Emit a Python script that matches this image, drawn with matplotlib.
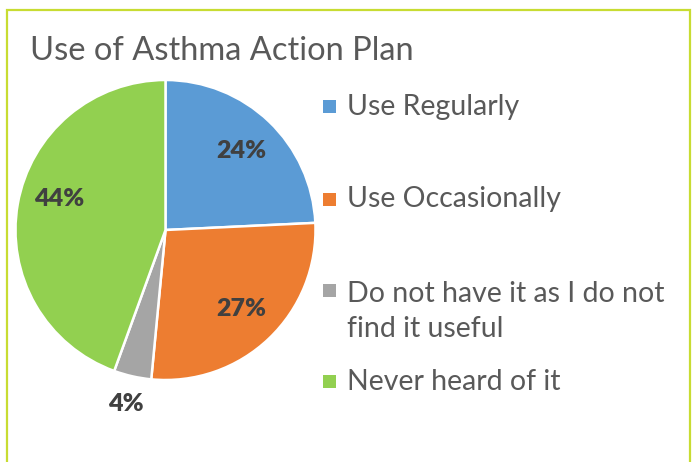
import matplotlib
matplotlib.use("Agg")
import matplotlib.pyplot as plt
from matplotlib.patches import Rectangle
import numpy as np

categories = ["Use Regularly", "Use Occasionally",
              "Do not have it as I do not\nfind it useful", "Never heard of it"]
values = [24, 27, 4, 44]
colors = ["#5B9BD5", "#ED7D31", "#A5A5A5", "#92D050"]
title = "Use of Asthma Action Plan"

W, H = 692, 462
fig = plt.figure(figsize=(W / 100, H / 100), dpi=100)
fig.patch.set_facecolor("white")
plt.rcParams["font.family"] = ["Lato", "DejaVu Sans"]

# border (bottom edge lies outside the image)
fig.patches.append(Rectangle((6.5 / W, -0.05), (689.5 - 6.5) / W, 1.05 - 9.5 / H,
                             transform=fig.transFigure, fill=False,
                             edgecolor="#C8DC32", linewidth=1.6))

fig.text(30 / W, 1 - 60 / H, title, fontsize=23.5, color="#595959",
         va="baseline", ha="left")

cx, cy, R = 165.5, 230, 150
ax = fig.add_axes([(cx - R) / W, 1 - (cy + R) / H, 2 * R / W, 2 * R / H])
wedges, texts, autotexts = ax.pie(
    values, colors=colors, startangle=90, counterclock=False,
    autopct=lambda p: f"{p:.0f}%", pctdistance=0.73,
    wedgeprops=dict(edgecolor="white", linewidth=1.8),
    textprops=dict(fontsize=18, fontweight="heavy", color="#404040"))
for v, t in zip(values, autotexts):
    t.set_text(f"{v}%")
ax.set_xlim(-1, 1)
ax.set_ylim(-1, 1)
ax.set_aspect("equal")
ax.axis("off")

# label placement: small slice outside, large slice nudged (best-fit style)
def place(i, r, dang=0.0):
    w = wedges[i]
    ang = np.deg2rad((w.theta1 + w.theta2) / 2 + dang)
    autotexts[i].set_position((r * np.cos(ang), r * np.sin(ang)))
    autotexts[i].set_clip_on(False)

place(2, 1.19)
place(3, 0.74, -6)

# legend
marker_y = [106, 199, 290, 381]
text_baselines = [115, 207, 337, 390]
for lab, col, m, b in zip(categories, colors, marker_y, text_baselines):
    fig.patches.append(Rectangle((323 / W, 1 - (m + 6.5) / H), 12.5 / W, 12.5 / H,
                                 transform=fig.transFigure, facecolor=col,
                                 edgecolor="none"))
    fig.text(347 / W, 1 - b / H, lab, fontsize=20.5, color="#595959",
             va="baseline", ha="left", linespacing=1.44)

fig.savefig("out.png", dpi=100)
